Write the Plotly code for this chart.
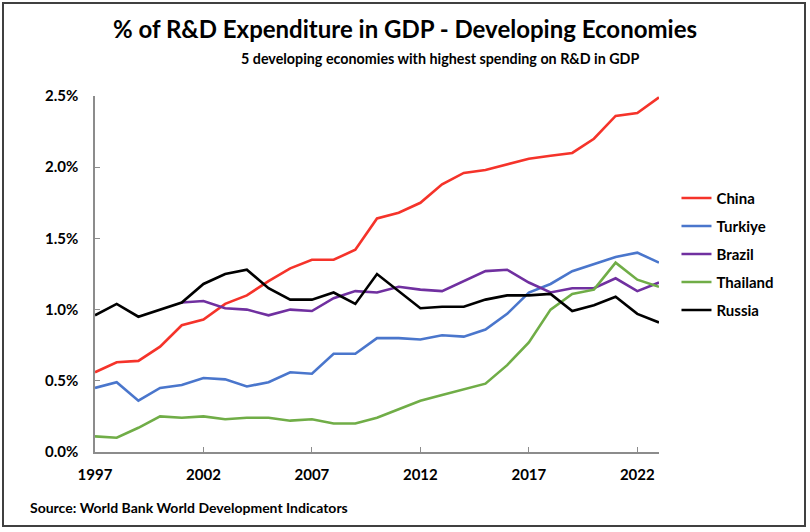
import plotly.graph_objects as go

years = list(range(1997, 2024))

china = [0.56, 0.63, 0.64, 0.74, 0.89, 0.93, 1.04, 1.10, 1.20, 1.29, 1.35, 1.35, 1.42, 1.64,
         1.68, 1.75, 1.88, 1.96, 1.98, 2.02, 2.06, 2.08, 2.10, 2.20, 2.36, 2.38, 2.49]
turkiye = [0.45, 0.49, 0.36, 0.45, 0.47, 0.52, 0.51, 0.46, 0.49, 0.56, 0.55, 0.69, 0.69, 0.80,
           0.80, 0.79, 0.82, 0.81, 0.86, 0.97, 1.12, 1.18, 1.27, 1.32, 1.37, 1.40, 1.33]
brazil_years = list(range(2001, 2024))
brazil = [1.05, 1.06, 1.01, 1.00, 0.96, 1.00, 0.99, 1.08, 1.13, 1.12,
          1.16, 1.14, 1.13, 1.20, 1.27, 1.28, 1.19, 1.12, 1.15, 1.15, 1.22, 1.13, 1.19]
thailand = [0.11, 0.10, 0.17, 0.25, 0.24, 0.25, 0.23, 0.24, 0.24, 0.22, 0.23, 0.20, 0.20, 0.24,
            0.30, 0.36, 0.40, 0.44, 0.48, 0.61, 0.77, 1.00, 1.11, 1.14, 1.33, 1.21, 1.16]
russia = [0.96, 1.04, 0.95, 1.00, 1.05, 1.18, 1.25, 1.28, 1.15, 1.07, 1.07, 1.12, 1.04, 1.25,
          1.13, 1.01, 1.02, 1.02, 1.07, 1.10, 1.10, 1.11, 0.99, 1.03, 1.09, 0.97, 0.91]

x_ticks = [1997, 2002, 2007, 2012, 2017, 2022]
y_ticks = [0.0, 0.5, 1.0, 1.5, 2.0, 2.5]
y_labels = ["0.0%", "0.5%", "1.0%", "1.5%", "2.0%", "2.5%"]

FONT = "Lato, Noto Sans, sans-serif"
AX = "#8c8c8c"

series = [
    ("China", years, china, "#f5332a"),
    ("Turkiye", years, turkiye, "#4a76cc"),
    ("Brazil", brazil_years, brazil, "#7030a0"),
    ("Thailand", years, thailand, "#70ad47"),
    ("Russia", years, russia, "#000000"),
]

fig = go.Figure()
for name, xs, ys, col in series:
    fig.add_trace(go.Scatter(x=xs, y=ys, name=name, mode="lines",
                             line=dict(color=col, width=2.6), legendgroup=name))

fig.update_layout(
    width=810, height=532,
    margin=dict(l=95, r=151, t=96, b=80, autoexpand=False),
    paper_bgcolor="white", plot_bgcolor="white",
    font=dict(family=FONT, color="black", size=14, weight="bold"),
    title=dict(text="% of R&D Expenditure in GDP - Developing Economies",
               x=0.5, xref="container", xanchor="center",
               y=1 - 30 / 532, yref="container", yanchor="middle",
               font=dict(family=FONT, size=24, color="black", weight="bold")),
    showlegend=True,
    legend=dict(x=1.031, y=0.759, xanchor="left", yanchor="top",
                font=dict(family=FONT, size=15, color="black", weight="bold"),
                traceorder="grouped", tracegroupgap=5.5, itemwidth=30,
                bgcolor="rgba(0,0,0,0)"),
    xaxis=dict(range=[1997, 2023], tickvals=x_ticks, ticks="inside", ticklen=5,
               tickcolor=AX, showline=True, linecolor=AX, linewidth=1.5,
               showgrid=False, zeroline=False, ticklabelstandoff=8,
               tickfont=dict(family=FONT, size=15, weight="bold")),
    yaxis=dict(range=[0, 2.5], tickmode="array", tickvals=y_ticks, ticktext=y_labels,
               ticks="inside", ticklen=5, tickcolor=AX, showline=True, linecolor=AX,
               linewidth=1.5, showgrid=False, zeroline=False, ticklabelstandoff=12,
               tickfont=dict(family=FONT, size=15, weight="bold")),
    annotations=[
        dict(text="5 developing economies with highest spending on R&D in GDP",
             xref="paper", yref="paper", x=(440 - 95) / 564, y=(452 - 58) / 356,
             xanchor="center", yanchor="middle", showarrow=False,
             font=dict(family=FONT, size=14.3, color="black", weight="bold")),
        dict(text="Source: World Bank World Development Indicators",
             xref="paper", yref="paper", x=(28 - 95) / 564, y=(452 - 507) / 356,
             xanchor="left", yanchor="middle", showarrow=False,
             font=dict(family=FONT, size=14, color="black", weight="bold")),
    ],
    shapes=[
        dict(type="rect", xref="paper", yref="paper",
             x0=(3 - 95) / 564, x1=(805 - 95) / 564,
             y0=(452 - 526) / 356, y1=(452 - 3) / 356,
             line=dict(color="#404040", width=2), fillcolor="rgba(0,0,0,0)"),
    ],
)

fig.write_html("out.html", config={"displayModeBar": False},
               post_script="document.body.style.margin='0px';")
